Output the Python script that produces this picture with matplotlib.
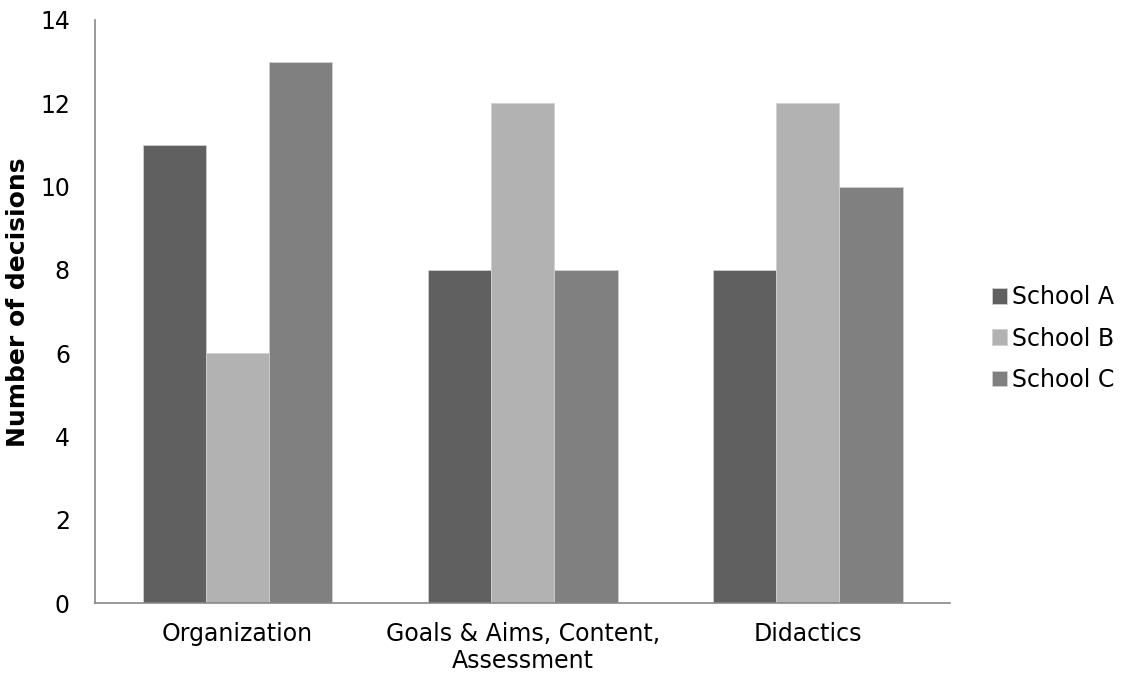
import numpy as np
import matplotlib.pyplot as plt

categories = ['Organization', 'Goals & Aims, Content,\nAssessment', 'Didactics']
school_a = [11, 8, 8]
school_b = [6, 12, 12]
school_c = [13, 8, 10]
series_names = ['School A', 'School B', 'School C']
colors = ['#606060', '#b2b2b2', '#808080']

plt.rcParams['font.family'] = ['DejaVu Sans']

fig = plt.figure(figsize=(11.21, 6.77), dpi=100)
ax = fig.add_axes([0.0847, 0.1093, 0.763, 0.8612])

x = np.arange(len(categories))
w = 0.222
for i, (vals, name, col) in enumerate(zip([school_a, school_b, school_c], series_names, colors)):
    ax.bar(x + (i - 1) * w, vals, width=w, color=col, edgecolor='#d0d0d0',
           linewidth=0.6, label=name)

ax.set_xlim(-0.5, 2.5)
ax.set_ylim(0, 14)
ax.set_yticks(range(0, 15, 2))
ax.set_xticks(x)
ax.set_xticklabels(categories, linespacing=1.15)
ax.tick_params(axis='both', length=0, labelsize=17)
ax.tick_params(axis='x', pad=14)
ax.tick_params(axis='y', pad=18)

for side in ['top', 'right']:
    ax.spines[side].set_visible(False)
for side in ['left', 'bottom']:
    ax.spines[side].set_color('#888888')
    ax.spines[side].set_linewidth(1.2)

ax.set_ylabel('Number of decisions', fontsize=18, fontweight='bold', labelpad=7, y=0.515)

fig.legend(*ax.get_legend_handles_labels(), loc='center left',
           bbox_to_anchor=(0.885, 0.5), frameon=False, borderpad=0,
           borderaxespad=0, fontsize=17, handlelength=0.65, handleheight=0.65,
           handletextpad=0.2, labelspacing=0.73)

fig.savefig('out.png', dpi=100)
